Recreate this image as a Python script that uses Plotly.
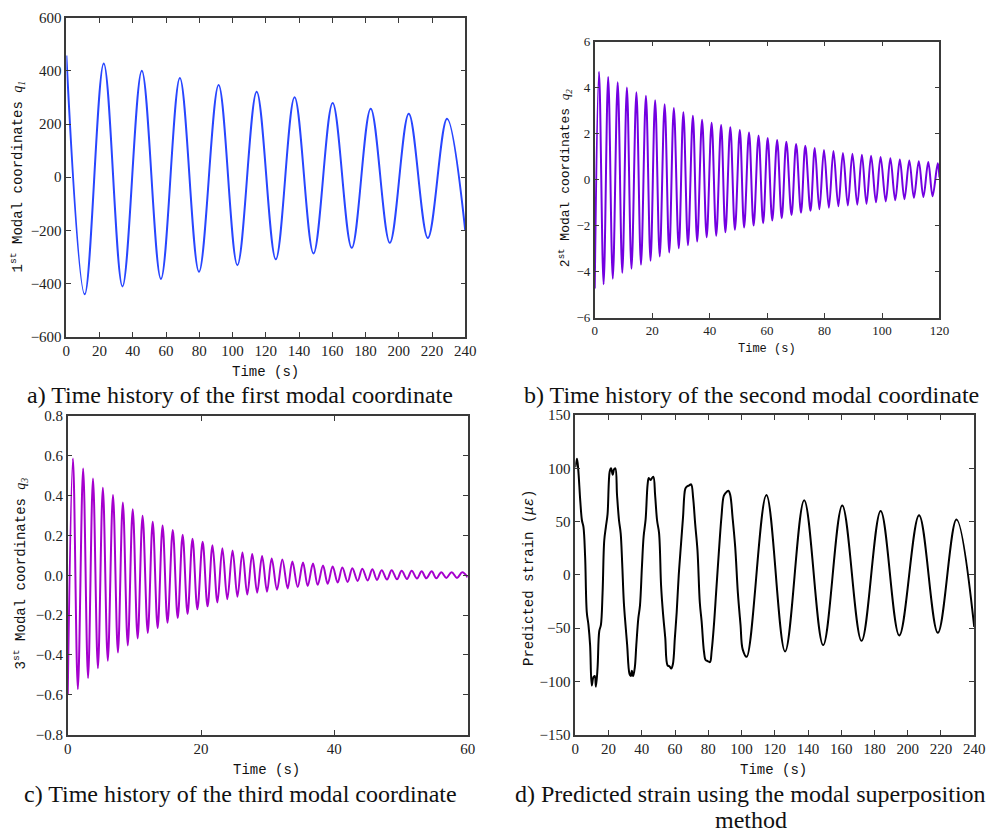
import plotly.graph_objects as go

W, H = 1001, 838

# ---------------- data (extremes / trace points) ----------------
# a) first modal coordinate q1
a_time = [0, 11.06, 22.5, 33.76, 45.4, 56.9, 68.3, 79.8, 91.6, 102.9, 114.5, 126.0,
          137.3, 148.7, 160.2, 171.7, 183.1, 194.6, 206.0, 217.5, 229.0, 240]
a_value = [458, -441, 428, -411, 401, -383, 373, -356, 347, -331, 322, -309,
           301, -287, 279, -266, 258, -247, 239, -229, 220, -202]

# b) second modal coordinate q2
b_time = [0, 1.49, 3.09, 4.69, 6.29, 8.0, 9.6, 11.2, 12.8, 14.51, 16.11, 17.83, 19.43,
          21.03, 22.63, 24.34, 25.94, 27.54, 29.26, 30.86, 32.46, 34.17, 35.66, 37.37,
          38.97, 40.69, 42.29, 44.0, 45.49, 47.2, 48.8, 50.51, 52.0, 53.71, 55.31, 57.03,
          58.63, 60.2, 61.8, 63.5, 65.1, 66.7, 68.5, 70.1, 71.8, 73.3, 75.1, 76.6, 78.2,
          79.8, 81.5, 83.1, 84.8, 86.4, 88.1, 89.7, 91.4, 93.0, 94.6, 96.2, 97.9, 99.5,
          101.3, 102.9, 104.6, 106.2, 107.8, 109.5, 111.1, 112.8, 114.4, 116.1, 117.6,
          119.4, 120]
b_value = [-4.72, 4.70, -4.54, 4.47, -4.30, 4.24, -4.04, 4.01, -3.86, 3.80, -3.69, 3.65,
           -3.52, 3.46, -3.33, 3.28, -3.16, 3.12, -2.98, 2.94, -2.84, 2.78, -2.68, 2.61,
           -2.50, 2.48, -2.43, 2.38, -2.28, 2.28, -2.17, 2.16, -2.07, 2.06, -1.99, 1.93,
           -1.89, 1.82, -1.77, 1.73, -1.67, 1.65, -1.53, 1.56, -1.43, 1.48, -1.35, 1.38,
           -1.28, 1.30, -1.21, 1.25, -1.15, 1.16, -1.12, 1.13, -1.08, 1.09, -1.04, 1.05,
           -0.98, 0.99, -0.94, 0.94, -0.89, 0.88, -0.84, 0.84, -0.78, 0.81, -0.75, 0.77,
           -0.71, 0.72, 0.1]

# c) third modal coordinate q3
c_time = [0, 0.78, 1.52, 2.31, 3.05, 3.79, 4.53, 5.27, 6.01, 6.79, 7.53, 8.27, 9.01,
          9.75, 10.49, 11.23, 12.01, 12.75, 13.49, 14.23, 14.97, 15.76, 16.5, 17.24,
          17.98, 18.72, 19.45, 20.24, 20.98, 21.72, 22.46, 23.2, 23.94, 24.73, 25.46,
          26.21, 26.94, 27.68, 28.42, 29.16, 29.9, 30.6, 31.4, 32.2, 33.0, 33.7, 34.5,
          35.3, 36.0, 36.8, 37.5, 38.3, 39.0, 39.75, 40.5, 41.2, 42.0, 42.7, 43.5, 44.2,
          45.0, 45.7, 46.4, 47.1, 47.9, 48.6, 49.4, 50.1, 50.9, 51.6, 52.4, 53.1, 53.8,
          54.6, 55.3, 56.05, 56.8, 57.6, 58.4, 59.2, 60]
c_value = [-0.60, 0.587, -0.572, 0.537, -0.516, 0.486, -0.467, 0.440, -0.429, 0.403,
           -0.388, 0.366, -0.352, 0.332, -0.317, 0.299, -0.289, 0.269, -0.265, 0.250,
           -0.238, 0.227, -0.215, 0.204, -0.194, 0.184, -0.171, 0.168, -0.156, 0.151,
           -0.136, 0.136, -0.120, 0.125, -0.108, 0.115, -0.097, 0.107, -0.087, 0.097,
           -0.082, 0.085, -0.072, 0.079, -0.066, 0.069, -0.059, 0.064, -0.054, 0.059,
           -0.048, 0.049, -0.043, 0.044, -0.036, 0.039, -0.033, 0.036, -0.028, 0.033,
           -0.026, 0.030, -0.023, 0.026, -0.021, 0.026, -0.020, 0.023, -0.018, 0.023,
           -0.016, 0.020, -0.015, 0.020, -0.015, 0.016, -0.013, 0.016, -0.013, 0.015,
           -0.01]

# d) predicted strain
d_time = [0, 1.0, 1.8, 3.0, 4.0, 4.9, 5.9, 6.9, 7.9, 8.9, 9.9, 10.9, 11.7, 12.4, 13.4,
          14.4, 15.4, 16.4, 17.4, 18.4, 19.4, 20.7, 21.5, 22.5, 23.3, 24.1, 25.1, 26.3,
          27.3, 28.2, 29.2, 30.2, 31.2, 32.6, 33.4, 34.0, 34.8, 35.8, 36.7, 37.9, 38.9,
          40.1, 41.1, 42.3, 43.5, 44.2, 45.2, 46.2, 47.0, 48.0, 49.2, 50.4, 51.6, 52.7,
          54.1, 55.5, 56.7, 57.7, 58.7, 59.9, 61.0, 62.2, 63.6, 64.8, 66.2, 67.2, 68.5,
          69.7, 70.9, 72.1, 73.5, 74.9, 76.0, 77.4, 78.4, 79.6, 81.0, 82.0, 83.4, 84.7,
          86.3, 87.9, 89.3, 90.5, 92.1, 93.2, 94.6, 96.2, 97.8, 99.4, 100.7, 103.1,
          114.96, 126.2, 137.7, 149.1, 160.6, 172.2, 183.7, 194.9, 206.8, 218.1, 229.3,
          240]
d_value = [101, 109, 98, 69, 51, 45, 17, -35, -47, -66, -104, -96, -95, -105, -87,
           -53, -47, -17, 32, 45, 57, 97, 100, 94, 99, 100, 75, 51,
           39, 11, -26, -47, -66, -93, -95, -90, -95, -87, -66, -41, -29,
           8, 36, 52, 85, 91, 89, 91, 92, 75, 51, 39, -10, -35,
           -59, -85, -86, -88, -84, -59, -35, -1, 29, 54, 81, 83, 84,
           85, 72, 48, 23, -26, -44, -72, -80, -81, -82, -72, -47, -17,
           20, 54, 74, 77, 79, 75, 54, 26, -17, -47, -70, -77,
           75, -72, 70, -66, 65, -62, 60, -57, 56, -54.5, 52,
           -49]

# ---------------- layout helpers ----------------
def fx(p):
    return p / W


def fy(p):
    return 1 - p / H


AX = "#3a3a3a"


def axis(domain, rng, tickvals, size=15, fmt=None, anchor=None):
    d = dict(domain=domain, range=rng, tickmode="array", tickvals=tickvals,
             showline=True, linecolor=AX, linewidth=1.5, mirror="ticks",
             ticks="inside", ticklen=5, tickwidth=1.2, tickcolor=AX,
             showgrid=False, zeroline=False, anchor=anchor,
             tickfont=dict(family="Liberation Serif", size=size, color="#222"))
    if fmt:
        d["tickformat"] = fmt
    return d


fig = go.Figure()
fig.add_trace(go.Scatter(x=a_time, y=a_value, mode="lines", xaxis="x", yaxis="y",
                         line=dict(color="rgb(40,70,255)", width=2, shape="spline")))
fig.add_trace(go.Scatter(x=b_time, y=b_value, mode="lines", xaxis="x2", yaxis="y2",
                         line=dict(color="rgb(115,0,225)", width=2, shape="spline")))
fig.add_trace(go.Scatter(x=c_time, y=c_value, mode="lines", xaxis="x3", yaxis="y3",
                         line=dict(color="rgb(165,0,205)", width=2, shape="spline")))
fig.add_trace(go.Scatter(x=d_time, y=d_value, mode="lines", xaxis="x4", yaxis="y4",
                         line=dict(color="black", width=2, shape="spline")))

x20_240 = list(range(0, 241, 20))
fig.update_layout(
    width=W, height=H, showlegend=False,
    margin=dict(l=0, r=0, t=0, b=0),
    paper_bgcolor="white", plot_bgcolor="white",
    xaxis=axis([fx(63.3), fx(468.3)], [0, 240], x20_240, anchor="y"),
    yaxis=axis([fy(335), fy(10)], [-600, 600], list(range(-600, 601, 200)), anchor="x"),
    xaxis2=axis([fx(599.7), fx(949.7)], [0, 120], list(range(0, 121, 20)), size=13, anchor="y2"),
    yaxis2=axis([fy(315.9), fy(34.4)], [-6, 6], list(range(-6, 7, 2)), size=13, anchor="x2"),
    xaxis3=axis([fx(64.7), fx(470.7)], [0, 60], [0, 20, 40, 60], anchor="y3"),
    yaxis3=axis([fy(740.7), fy(416)], [-0.8, 0.8],
                [-0.8, -0.6, -0.4, -0.2, 0, 0.2, 0.4, 0.6, 0.8], fmt=".1f", anchor="x3"),
    xaxis4=axis([fx(580), fx(985)], [0, 240], x20_240, anchor="y4"),
    yaxis4=axis([fy(740.7), fy(415)], [-150, 150], list(range(-150, 151, 50)), anchor="x4"),
)

MONO = "Liberation Mono"
SERIF = "Liberation Serif"


def ann(x, y, text, family, size, angle=0):
    fig.add_annotation(x=fx(x), y=fy(y), xref="paper", yref="paper", text=text,
                       showarrow=False, xanchor="center", yanchor="middle",
                       textangle=angle, font=dict(family=family, size=size, color="#111"))


def qlab(n):
    return ("%s<sup>st</sup> Modal coordinates <span style='font-family:Liberation Serif'>"
            "<i>q</i><sub><i>%s</i></sub></span>") % (n, n)


# axis titles
ann(265.8, 371, "Time (s)", MONO, 14)
ann(14, 172, qlab("1"), MONO, 14, -90)
ann(774.7, 347.7, "Time (s)", MONO, 12)
ann(569, 173, qlab("2"), MONO, 13, -90)
ann(266, 777.3, "Time (s)", MONO, 14)
ann(16.7, 576, qlab("3"), MONO, 14, -90)
ann(780.7, 777.3, "Time (s)", MONO, 14)
ann(532.3, 580.7, "Predicted strain (<i>με</i>)", MONO, 14, -90)

# captions
ann(240, 395, "a) Time history of the first modal coordinate", SERIF, 24)
ann(759, 395, "b) Time history of the second modal coordinate", SERIF, 24)
ann(240, 801.7, "c) Time history of the third modal coordinate", SERIF, 24)
ann(758, 801.7, "d) Predicted strain using the modal superposition", SERIF, 24)
ann(758.8, 828.3, "method", SERIF, 24)

POST = (
    "var s=document.createElement('style');"
    "s.textContent='html,body{margin:0!important;padding:0!important;overflow:hidden!important;}';"
    "document.head.appendChild(s);"
)

fig.write_html("out.html", config={"displayModeBar": False}, post_script=POST)
